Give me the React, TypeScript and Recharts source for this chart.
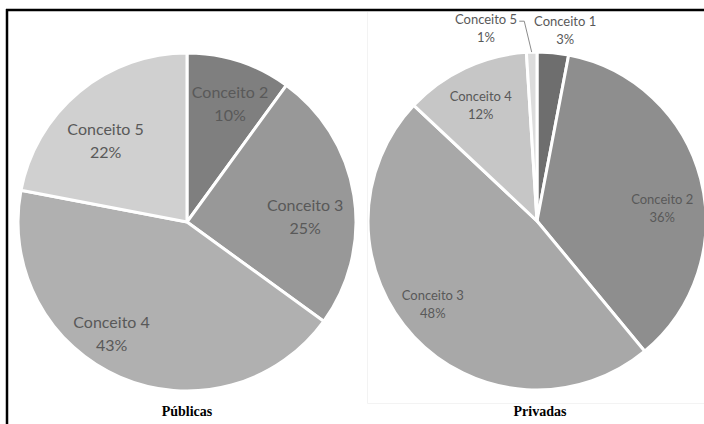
import { Cell, Pie, PieChart } from 'recharts';

// Públicas
const publicasNames = ['Conceito 2', 'Conceito 3', 'Conceito 4', 'Conceito 5'];
const publicasValues = [10, 25, 43, 22];
const publicasColors = ['#7f7f7f', '#989898', '#b0b0b0', '#d0d0d0'];

// Privadas
const privadasNames = ['Conceito 1', 'Conceito 2', 'Conceito 3', 'Conceito 4', 'Conceito 5'];
const privadasValues = [3, 36, 48, 12, 1];
const privadasColors = ['#6e6e6e', '#8e8e8e', '#a8a8a8', '#c6c6c6', '#dcdcdc'];

const publicasData = publicasNames.map((name, i) => ({ name, value: publicasValues[i] }));
const privadasData = privadasNames.map((name, i) => ({ name, value: privadasValues[i] }));

// label placement: fraction of the radius and angular shift (deg, clockwise) from the slice middle
type Place = { r: number; shift: number };

const publicasPlaces: Place[] = [
  { r: 0.745, shift: 2 },
  { r: 0.7, shift: 6.5 },
  { r: 0.8, shift: 10.5 },
  { r: 0.68, shift: -5.5 },
];

const privadasPlaces: Place[] = [
  { r: 1.14, shift: 3 },
  { r: 0.745, shift: 8.5 },
  { r: 0.79, shift: 4.5 },
  { r: 0.76, shift: -0.8 },
  { r: 1.18, shift: -13 },
];

const W = 704;
const H = 424;
const RADIUS = 169;

function makeLabel(places: Place[], fontSize: number, lineGap: number) {
  return (props: any) => {
    const { cx, cy, midAngle, outerRadius, index, name, value } = props;
    const p = places[index];
    const toXY = (r: number, deg: number) => {
      const t = (deg * Math.PI) / 180;
      return [cx + r * Math.sin(t), cy - r * Math.cos(t)];
    };
    const mid = 90 - midAngle;
    const [x, y] = toXY(outerRadius * p.r, mid + p.shift);
    const y1 = y - lineGap / 2;
    const y2 = y + lineGap / 2;
    const base = fontSize * 0.35;

    // leader line for small slices labelled outside, to the left
    let leader = null;
    if (p.r > 1 && p.shift < 0) {
      const [ex, ey] = toXY(outerRadius, mid);
      const half = name.length * fontSize * 0.24;
      const hy = y1 + 2;
      leader = (
        <polyline
          points={`${ex},${ey} ${x + half + 7},${hy} ${x + half + 2},${hy}`}
          fill="none"
          stroke="#8c8c8c"
          strokeWidth={1}
        />
      );
    }

    return (
      <g>
        {leader}
        <text textAnchor="middle" fill="#595959" fontFamily="Lato, 'Open Sans', sans-serif" fontSize={fontSize}>
          <tspan x={x} y={y1 + base}>{name}</tspan>
          <tspan x={x} y={y2 + base}>{`${value}%`}</tspan>
        </text>
      </g>
    );
  };
}

export default function App() {
  return (
    <div style={{ position: 'fixed', top: 0, left: 0, width: W, height: H, background: '#fff' }}>
      <PieChart width={W} height={H} margin={{ top: 0, right: 0, bottom: 0, left: 0 }}>
        <Pie
          data={publicasData}
          dataKey="value"
          nameKey="name"
          cx={187}
          cy={222}
          outerRadius={RADIUS}
          startAngle={90}
          endAngle={-270}
          stroke="#ffffff"
          strokeWidth={3}
          label={makeLabel(publicasPlaces, 16, 23)}
          labelLine={false}
          isAnimationActive={false}
        >
          {publicasData.map((d, i) => (
            <Cell key={d.name} fill={publicasColors[i]} />
          ))}
        </Pie>
        <Pie
          data={privadasData}
          dataKey="value"
          nameKey="name"
          cx={537}
          cy={221}
          outerRadius={RADIUS}
          startAngle={90}
          endAngle={-270}
          stroke="#ffffff"
          strokeWidth={3}
          label={makeLabel(privadasPlaces, 13, 18)}
          labelLine={false}
          isAnimationActive={false}
        >
          {privadasData.map((d, i) => (
            <Cell key={d.name} fill={privadasColors[i]} />
          ))}
        </Pie>
      </PieChart>

      <svg
        width={W}
        height={H}
        style={{ position: 'absolute', top: 0, left: 0, pointerEvents: 'none' }}
      >
        {/* frame */}
        <line x1={6} y1={10} x2={W} y2={10} stroke="#000" strokeWidth={2.5} />
        <line x1={7} y1={9} x2={7} y2={H} stroke="#000" strokeWidth={2.5} />
        {/* faint border of the right panel */}
        <polyline points={`367.5,12 367.5,403.5 ${W},403.5`} fill="none" stroke="#f3f3f3" strokeWidth={1} />
        <g fontFamily="'Liberation Serif', 'Times New Roman', serif" fontWeight="bold" fontSize={14} textAnchor="middle">
          <text x={187} y={416}>Públicas</text>
          <text x={540} y={416}>Privadas</text>
        </g>
      </svg>
    </div>
  );
}
